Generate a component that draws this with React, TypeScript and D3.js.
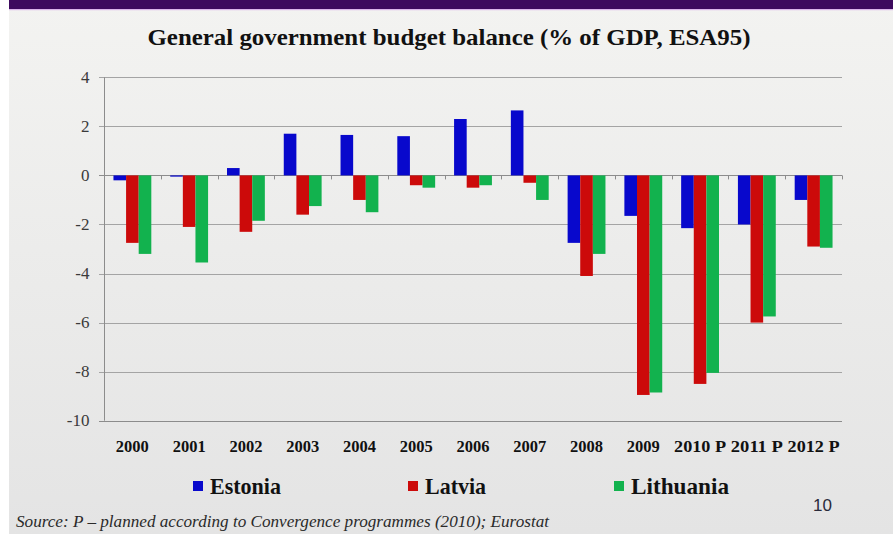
import React from "react";
import * as d3 from "d3";

const categories = ["2000", "2001", "2002", "2003", "2004", "2005", "2006", "2007", "2008", "2009", "2010 P", "2011 P", "2012 P"];
const seriesNames = ["Estonia", "Latvia", "Lithuania"];
const estonia = [-0.2, -0.05, 0.3, 1.7, 1.65, 1.6, 2.3, 2.65, -2.75, -1.65, -2.15, -2.0, -1.0];
const latvia = [-2.75, -2.1, -2.3, -1.6, -1.0, -0.4, -0.5, -0.3, -4.1, -8.95, -8.5, -6.0, -2.9];
const lithuania = [-3.2, -3.55, -1.85, -1.25, -1.5, -0.5, -0.4, -1.0, -3.2, -8.85, -8.05, -5.75, -2.95];
const yTicks = [4, 2, 0, -2, -4, -6, -8, -10];
const colors = ["#0808cc", "#cc0a0a", "#12b24e"];
const title = "General government budget balance (% of GDP, ESA95)";
const source = "Source: P \u2013 planned  according to Convergence programmes (2010); Eurostat";

export default function App() {
  const W = 893, H = 534;
  const left = 104, right = 842, top = 77.3, bottom = 420.7;
  const y = d3.scaleLinear().domain([-10, 4]).range([bottom, top]);
  const x0 = d3.scaleBand<string>().domain(categories).range([left, right]).padding(0);
  const x1 = d3.scaleBand<string>().domain(seriesNames).range([0, x0.step()]).paddingInner(0).paddingOuter(0.75);
  const data = [estonia, latvia, lithuania];
  const serif = "'Liberation Serif', 'Times New Roman', serif";
  const legendX = [193, 408, 614];
  const legendTextLen = [71, 61, 98];

  return (
    <svg width={W} height={H} style={{ position: "absolute", left: 0, top: 0, display: "block" }}>
      <defs>
        <linearGradient id="bg" x1="0" y1="0" x2="0" y2="1">
          <stop offset="0" stopColor="#f3f3f1" />
          <stop offset="1" stopColor="#e4e4e4" />
        </linearGradient>
      </defs>
      <rect x={0} y={0} width={W} height={H} fill="#ffffff" />
      <rect x={9} y={0} width={W - 9} height={H} fill="url(#bg)" />
      <rect x={9} y={0} width={W - 9} height={9} fill="#3d0a5e" />
      <rect x={9} y={9} width={W - 9} height={1.2} fill="#dab4ea" />

      <text x={449} y={45} textAnchor="middle" fontFamily={serif} fontWeight="bold" fontSize={23}
        textLength={603} lengthAdjust="spacingAndGlyphs" fill="#111">{title}</text>

      {/* gridlines */}
      {yTicks.map((t) => (
        <g key={t}>
          <line x1={left - 5} x2={right} y1={Math.round(y(t)) + 0.5} y2={Math.round(y(t)) + 0.5}
            stroke={t === 0 || t === -10 ? "#8c8c8c" : "#a4a4a4"} strokeWidth={1} />
          <text x={89.5} y={y(t) + 5.5} textAnchor="end" fontFamily={serif} fontSize={17} fill="#3a3a3a">{t}</text>
        </g>
      ))}
      <line x1={left + 0.5} x2={left + 0.5} y1={top} y2={bottom} stroke="#8c8c8c" />

      {/* category ticks on zero line */}
      {categories.map((c) => (
        <line key={c} x1={Math.round(x0(c)! + x0.step()) + 0.5} x2={Math.round(x0(c)! + x0.step()) + 0.5}
          y1={y(0)} y2={y(0) + 4} stroke="#8c8c8c" />
      ))}

      {/* bars */}
      {categories.map((c, i) => (
        <g key={c}>
          {data.map((s, k) => {
            const v = s[i];
            const bx = x0(c)! + x1(seriesNames[k])!;
            const y0 = y(0), yv = y(v);
            return (
              <rect key={k} x={bx} width={x1.bandwidth()} y={Math.min(y0, yv)} height={Math.abs(yv - y0)}
                fill={colors[k]} />
            );
          })}
        </g>
      ))}

      {/* x labels */}
      {categories.map((c) => (
        <text key={c} x={x0(c)! + x0.bandwidth() / 2} y={451.5} textAnchor="middle" fontFamily={serif}
          fontWeight="bold" fontSize={16} textLength={c.length > 4 ? 52 : 33} lengthAdjust="spacingAndGlyphs"
          fill="#111">{c}</text>
      ))}

      {/* legend */}
      {seriesNames.map((n, k) => (
        <g key={n}>
          <rect x={legendX[k]} y={481} width={10} height={10} fill={colors[k]} />
          <text x={legendX[k] + 17} y={493.5} fontFamily={serif} fontWeight="bold" fontSize={24}
            textLength={legendTextLen[k]} lengthAdjust="spacingAndGlyphs" fill="#111">{n}</text>
        </g>
      ))}

      <text x={813} y={510.5} fontFamily="'Liberation Sans', Arial, sans-serif" fontSize={17} fill="#2a2a3a">10</text>

      <text x={16} y={527} fontFamily={serif} fontStyle="italic" fontSize={16} fill="#2a2a2a"
        textLength={533} lengthAdjust="spacingAndGlyphs">{source}</text>
    </svg>
  );
}
